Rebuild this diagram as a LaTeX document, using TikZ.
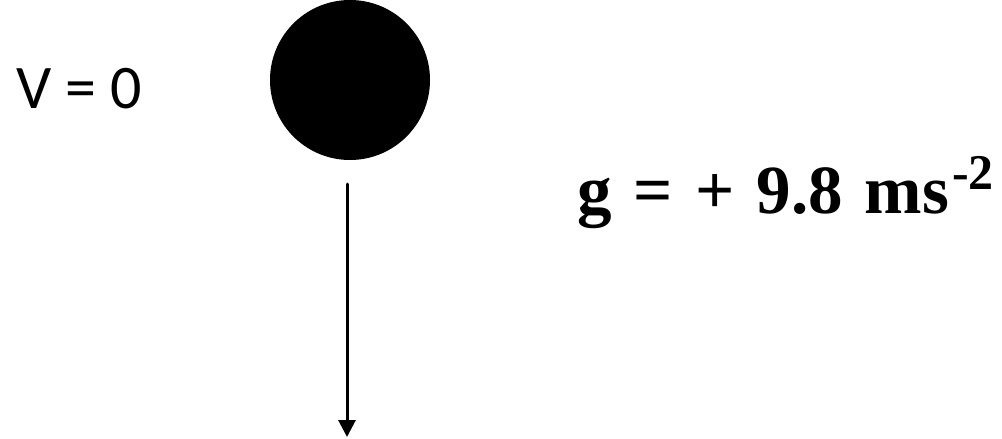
\documentclass[tikz,border=0pt]{standalone}
\usepackage{fontspec}
\setmainfont{Liberation Serif}
\newfontfamily\calfont{Carlito}
\usetikzlibrary{arrows.meta}

\begin{document}
\begin{tikzpicture}[x=1pt,y=-1pt,line cap=round]
  \useasboundingbox (0,0) rectangle (1002,439);
  \fill (350,80) circle (80);
  \node[anchor=base west,inner sep=0] (vel) at (16,108) {\calfont\fontsize{62}{62}\selectfont V = 0};
  \coordinate (top) at (347,184); \coordinate (bot) at (347,437);
  \draw[line width=3,-{Triangle[length=17,width=17]}] (top) -- (bot);
  \node[anchor=base west,inner sep=0] (grav) at (577,213) {\fontsize{69}{69}\selectfont\bfseries\spaceskip=0.32em g = + 9.8 ms\kern3pt\raisebox{0.34em}{\fontsize{50}{50}\selectfont -2}};
\end{tikzpicture}
\end{document}
